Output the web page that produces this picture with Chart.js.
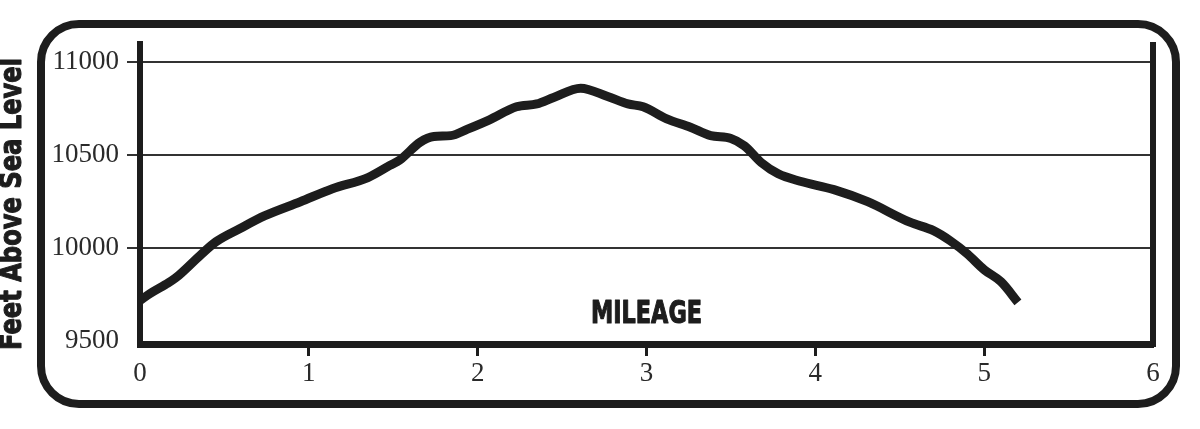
<!DOCTYPE html>
<html>
<head>
<meta charset="utf-8">
<script src="https://cdn.jsdelivr.net/npm/chart.js@4/dist/chart.umd.min.js"></script>
<style>
  html, body { margin: 0; padding: 0; background: #ffffff; }
  #wrap { width: 1200px; height: 429px; position: relative; }
</style>
</head>
<body>
<div id="wrap"><canvas id="c" width="1200" height="429"></canvas></div>
<script>
// ---- data ----
const miles = [0.00, 0.06, 0.15, 0.21, 0.36, 0.45, 0.59, 0.74, 0.95, 1.14, 1.35, 1.48, 1.54, 1.66, 1.74, 1.84, 1.94, 2.07, 2.23, 2.35, 2.45, 2.61, 2.77, 2.89, 2.98, 3.12, 3.26, 3.38, 3.50, 3.58, 3.68, 3.78, 3.91, 4.11, 4.31, 4.56, 4.70, 4.80, 4.90, 5.00, 5.10, 5.20];
const elevations = [9720, 9757, 9805, 9840, 9965, 10035, 10105, 10175, 10250, 10320, 10380, 10445, 10475, 10570, 10600, 10605, 10640, 10690, 10760, 10775, 10810, 10860, 10815, 10775, 10760, 10695, 10650, 10605, 10590, 10550, 10460, 10400, 10360, 10315, 10250, 10140, 10095, 10040, 9970, 9885, 9820, 9710];
const yTickValues = [9500, 10000, 10500, 11000];
const xTickValues = [0, 1, 2, 3, 4, 5, 6];
const yAxisTitle = 'Feet Above Sea Level';
const xAxisTitle = 'MILEAGE';

const INK = '#1d1d1d';
const SERIF = '"Liberation Serif", "DejaVu Serif", serif';
const NARROW = '"Liberation Sans Narrow", "DejaVu Sans Condensed", "Liberation Sans", sans-serif';

function drawFitText(ctx, text, x, y, size, targetWidth, rotate) {
  ctx.save();
  ctx.font = 'bold ' + size + 'px ' + NARROW;
  ctx.fillStyle = INK;
  ctx.strokeStyle = INK;
  ctx.lineWidth = 1.1;
  ctx.lineJoin = 'round';
  ctx.textAlign = 'center';
  ctx.textBaseline = 'middle';
  const w = ctx.measureText(text).width;
  ctx.translate(x, y);
  if (rotate) ctx.rotate(-Math.PI / 2);
  ctx.scale(targetWidth / w, 1);
  ctx.fillText(text, 0, 0);
  ctx.strokeText(text, 0, 0);
  ctx.restore();
}

const decor = {
  id: 'decor',
  beforeDraw(chart) {
    const ctx = chart.ctx;
    ctx.save();
    ctx.fillStyle = '#ffffff';
    ctx.fillRect(0, 0, chart.width, chart.height);
    // rounded frame
    ctx.strokeStyle = INK;
    ctx.lineWidth = 8;
    ctx.beginPath();
    ctx.roundRect(41, 24, 1135, 380, 38);
    ctx.stroke();
    ctx.restore();
  },
  afterDraw(chart) {
    const ctx = chart.ctx;
    const a = chart.chartArea;
    const xs = chart.scales.x;
    ctx.save();
    // right vertical axis line
    ctx.strokeStyle = INK;
    ctx.lineWidth = 6;
    ctx.beginPath();
    ctx.moveTo(a.right, a.top - 2);
    ctx.lineTo(a.right, a.bottom + 3);
    ctx.stroke();
    ctx.restore();
    // axis titles
    drawFitText(ctx, xAxisTitle, xs.getPixelForValue(3), 315, 32, 111, false);
    drawFitText(ctx, yAxisTitle, 13, 204, 30, 292, true);
  }
};

new Chart(document.getElementById('c'), {
  type: 'line',
  data: {
    datasets: [{
      data: miles.map((m, i) => ({ x: m, y: elevations[i] })),
      borderColor: INK,
      borderWidth: 9,
      pointRadius: 0,
      fill: false,
      cubicInterpolationMode: 'monotone',
      borderCapStyle: 'butt',
      borderJoinStyle: 'round'
    }]
  },
  options: {
    responsive: false,
    animation: false,
    events: [],
    layout: { padding: { left: 0, top: 44, right: 47, bottom: 0 } },
    plugins: { legend: { display: false }, tooltip: { enabled: false }, title: { display: false } },
    scales: {
      x: {
        type: 'linear',
        min: 0, max: 6,
        afterFit(s) { s.height = 85; },
        afterBuildTicks(s) { s.ticks = xTickValues.map(v => ({ value: v })); },
        grid: {
          display: true,
          drawOnChartArea: false,
          drawTicks: true,
          tickLength: 12,
          tickWidth: 3,
          tickColor: ctx => (ctx.tick && (ctx.tick.value === 0 || ctx.tick.value === 6)) ? 'rgba(0,0,0,0)' : INK
        },
        border: { display: true, width: 7, color: INK },
        ticks: {
          color: '#2a2a2a',
          font: { family: SERIF, size: 27 },
          padding: 2,
          maxRotation: 0,
          autoSkip: false,
          callback: v => String(v)
        }
      },
      y: {
        type: 'linear',
        min: 9486, max: 11097,
        afterFit(s) { s.width = 140; },
        afterBuildTicks(s) { s.ticks = yTickValues.map(v => ({ value: v })); },
        grid: {
          display: true,
          drawOnChartArea: true,
          drawTicks: true,
          tickLength: 13,
          lineWidth: 2,
          color: ctx => (ctx.tick && ctx.tick.value === 9500) ? 'rgba(0,0,0,0)' : '#333333'
        },
        border: { display: true, width: 6, color: INK },
        ticks: {
          color: '#2a2a2a',
          font: { family: SERIF, size: 27 },
          padding: 8,
          autoSkip: false,
          callback: v => String(v)
        }
      }
    }
  },
  plugins: [decor]
});
</script>
</body>
</html>
